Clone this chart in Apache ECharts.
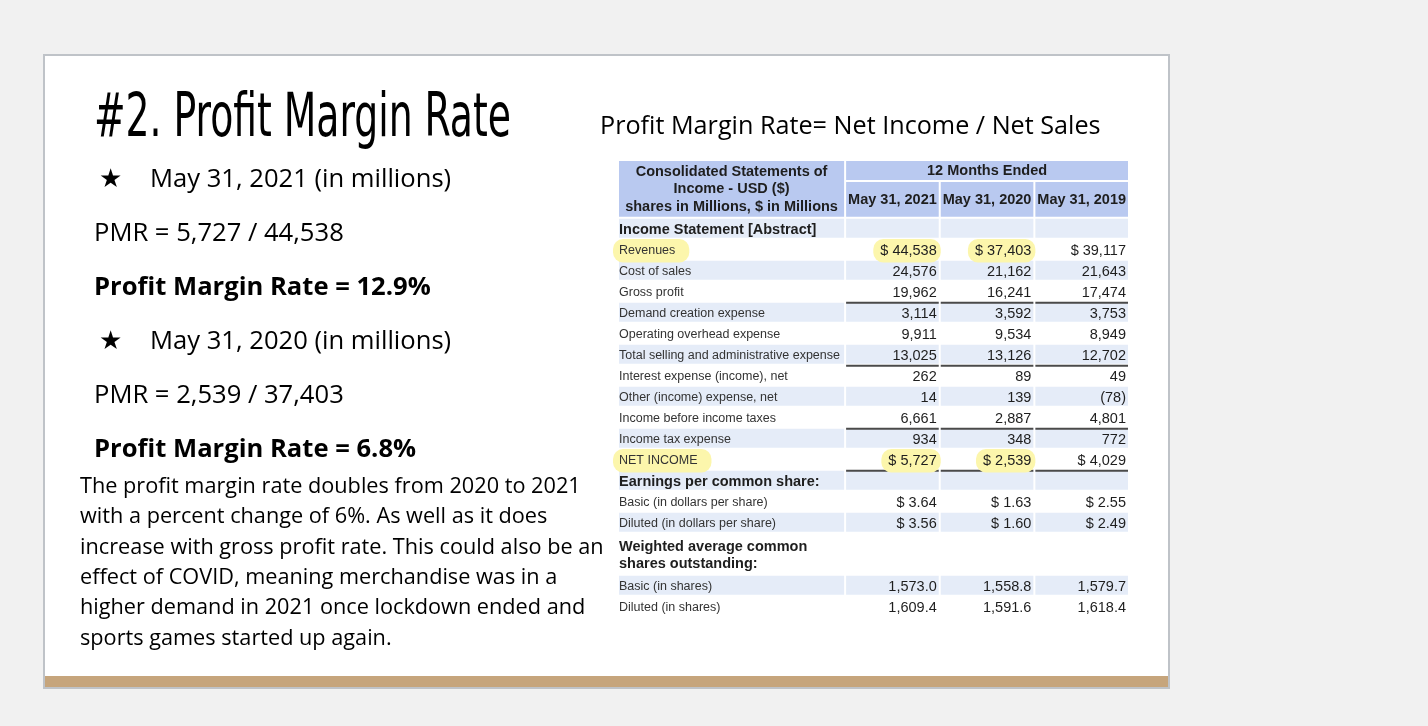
<!DOCTYPE html>
<html>
<head>
<meta charset="utf-8">
<title>#2. Profit Margin Rate</title>
<script src="https://cdn.jsdelivr.net/npm/echarts@6/dist/echarts.min.js"></script>
<style>
html, body { margin: 0; padding: 0; background: #f1f1f1; }
#main { width: 1428px; height: 726px; }
</style>
</head>
<body>
<div id="main"></div>
<script>
// ---- values ----
var title = '#2. Profit Margin Rate';
var formulaText = 'Profit Margin Rate= Net Income / Net Sales';
var notes2021 = ['May 31, 2021 (in millions)', 'PMR = 5,727 / 44,538', 'Profit Margin Rate = 12.9%'];
var notes2020 = ['May 31, 2020 (in millions)', 'PMR = 2,539 / 37,403', 'Profit Margin Rate = 6.8%'];
var paragraph = [
    'The profit margin rate doubles from 2020 to 2021',
    'with a percent change of 6%. As well as it does',
    'increase with gross profit rate. This could also be an',
    'effect of COVID, meaning merchandise was in a',
    'higher demand in 2021 once lockdown ended and',
    'sports games started up again.'
];

var tableHeader = 'Consolidated Statements of\nIncome - USD ($)\nshares in Millions, $ in Millions';
var periodHeader = '12 Months Ended';
var periods = ['May 31, 2021', 'May 31, 2020', 'May 31, 2019'];
var rowLabels = [
    'Income Statement [Abstract]',
    'Revenues',
    'Cost of sales',
    'Gross profit',
    'Demand creation expense',
    'Operating overhead expense',
    'Total selling and administrative expense',
    'Interest expense (income), net',
    'Other (income) expense, net',
    'Income before income taxes',
    'Income tax expense',
    'NET INCOME',
    'Earnings per common share:',
    'Basic (in dollars per share)',
    'Diluted (in dollars per share)',
    'Weighted average common\nshares outstanding:',
    'Basic (in shares)',
    'Diluted (in shares)'
];
var values2021 = [null, 44538, 24576, 19962, 3114, 9911, 13025, 262, 14, 6661, 934, 5727, null, 3.64, 3.56, null, 1573.0, 1609.4];
var values2020 = [null, 37403, 21162, 16241, 3592, 9534, 13126, 89, 139, 2887, 348, 2539, null, 1.63, 1.60, null, 1558.8, 1591.6];
var values2019 = [null, 39117, 21643, 17474, 3753, 8949, 12702, 49, -78, 4801, 772, 4029, null, 2.55, 2.49, null, 1579.7, 1618.4];

var sectionRows = ['Income Statement [Abstract]', 'Earnings per common share:', 'Weighted average common\nshares outstanding:'];
var dollarRows = ['Revenues', 'NET INCOME', 'Basic (in dollars per share)', 'Diluted (in dollars per share)'];
var perShareRows = ['Basic (in dollars per share)', 'Diluted (in dollars per share)'];
var shareRows = ['Basic (in shares)', 'Diluted (in shares)'];
var totalRows = ['Gross profit', 'Total selling and administrative expense', 'Income before income taxes', 'NET INCOME'];
var highlightRows = ['Revenues', 'NET INCOME'];
var highlightPeriods = ['May 31, 2021', 'May 31, 2020'];

// ---- styling ----
var HEAD_BG = '#b9c9f0';
var ROW_BG = '#e5ecf8';
var MARK = '#fcf6ac';
var TABLE_FONT = '"Liberation Sans", Arial, Helvetica, sans-serif';
var SLIDE_FONT = '"Open Sans", "Noto Sans", sans-serif';

// table layout, in column / row units of the hidden axes
var labelWidth = 2.4;
var head1 = 1, head2 = 1.75;
var colStart = [0, labelWidth, labelWidth + 1, labelWidth + 2];
var colEnd = [labelWidth, labelWidth + 1, labelWidth + 2, labelWidth + 3];
var bodyTop = head1 + head2;

var allValues = [values2021, values2020, values2019];

function fmt(label, v) {
    if (v == null) return '';
    var dec = perShareRows.indexOf(label) > -1 ? 2 : (shareRows.indexOf(label) > -1 ? 1 : 0);
    var s = Math.abs(v).toLocaleString('en-US', { minimumFractionDigits: dec, maximumFractionDigits: dec });
    if (v < 0) s = '(' + s + ')';
    if (dollarRows.indexOf(label) > -1) s = '$ ' + s;
    return s;
}

// background cells: [x0, x1, y0, y1, colour index]
var cellColors = [HEAD_BG, ROW_BG];
var cells = [];
var texts = [];      // {x, y, text, kind, align, mark}
var rules = [];      // [x0, x1, y]

cells.push([0, labelWidth, 0, bodyTop, 0]);
cells.push([labelWidth, colEnd[3], 0, head1, 0]);
texts.push({ x: labelWidth / 2, y: bodyTop / 2, text: tableHeader, kind: 'head', align: 'center' });
texts.push({ x: (labelWidth + colEnd[3]) / 2, y: head1 / 2, text: periodHeader, kind: 'head', align: 'center' });
periods.forEach(function(p, i) {
    cells.push([colStart[i + 1], colEnd[i + 1], head1, bodyTop, 0]);
    texts.push({ x: (colStart[i + 1] + colEnd[i + 1]) / 2, y: head1 + head2 / 2, text: p, kind: 'head', align: 'center' });
});

var slot = 0;
rowLabels.forEach(function(label, i) {
    var span = label.indexOf('\n') > -1 ? 2 : 1;
    var y0 = bodyTop + slot, y1 = y0 + span;
    if (i % 2 === 0) {
        for (var c = 0; c < 4; c++) cells.push([colStart[c], colEnd[c], y0, y1, 1]);
    }
    var isMark = highlightRows.indexOf(label) > -1;
    texts.push({
        x: 0, y: (y0 + y1) / 2, text: label, align: 'left',
        kind: sectionRows.indexOf(label) > -1 ? 'section' : 'label',
        mark: isMark
    });
    allValues.forEach(function(vals, p) {
        var s = fmt(label, vals[i]);
        if (s) {
            texts.push({
                x: colEnd[p + 1], y: (y0 + y1) / 2, text: s, align: 'right', kind: 'value',
                mark: isMark && highlightPeriods.indexOf(periods[p]) > -1
            });
        }
        if (totalRows.indexOf(label) > -1) rules.push([colStart[p + 1], colEnd[p + 1], y1]);
    });
    slot += span;
});

var fonts = {
    head: 'bold 14.5px ' + TABLE_FONT,
    section: 'bold 14.5px ' + TABLE_FONT,
    label: '12.5px ' + TABLE_FONT,
    value: '14.5px ' + TABLE_FONT
};

function renderCell(params, api) {
    var a = api.coord([api.value(0), api.value(2)]);
    var b = api.coord([api.value(1), api.value(3)]);
    return {
        type: 'rect',
        shape: { x: a[0] + 1, y: a[1] + 1, width: b[0] - a[0] - 2, height: b[1] - a[1] - 2 },
        style: { fill: cellColors[api.value(4)] }
    };
}

function renderRule(params, api) {
    var a = api.coord([api.value(0), api.value(2)]);
    var b = api.coord([api.value(1), api.value(2)]);
    return {
        type: 'line',
        shape: { x1: a[0] + 1, y1: a[1] + 1, x2: b[0] - 1, y2: b[1] + 1 },
        style: { stroke: '#4a4a4a', lineWidth: 2 }
    };
}

function renderText(params, api) {
    var t = texts[params.dataIndex];
    var p = api.coord([api.value(0), api.value(1)]);
    var x = p[0];
    var y = t.kind === 'head' ? p[1] + 0.5 : p[1] + 1.5;
    if (t.align === 'left') x += 1;
    if (t.align === 'right') x -= 3;
    var style = {
        text: t.text, x: x, y: y,
        font: fonts[t.kind],
        fill: t.kind === 'label' ? '#333' : '#1e1e1e',
        align: t.align, verticalAlign: 'middle',
        lineHeight: 17.5
    };
    if (t.mark) {
        var pad = t.align === 'left' ? [3, 14, 3, 6] : [3, 4, 3, 7];
        style.backgroundColor = MARK;
        style.borderRadius = 10;
        style.padding = pad;
        style.x = t.align === 'left' ? x - pad[3] : x + pad[1];
    }
    return { type: 'text', style: style };
}

// ---- slide text (graphic) ----
var measure = document.createElement('canvas').getContext('2d');
var titleFont = '60px "Liberation Sans Narrow", "DejaVu Sans Condensed", Roboto, sans-serif';
measure.font = titleFont;
var titleScale = 417 / measure.measureText(title).width;

var graphics = [
    { type: 'rect', z: -10, shape: { x: 44, y: 55, width: 1125, height: 633 },
      style: { fill: '#fff', stroke: '#bfc3c8', lineWidth: 2 } },
    { type: 'rect', z: -9, shape: { x: 45, y: 676, width: 1123, height: 11 },
      style: { fill: '#c6a57c' } },
    { type: 'text', x: 94, y: 120.5, scaleX: titleScale, originX: 0,
      style: { text: title, font: titleFont, fill: '#000', verticalAlign: 'middle' } },
    { type: 'text', x: 600, y: 127,
      style: { text: formulaText, font: '25.2px ' + SLIDE_FONT, fill: '#000', verticalAlign: 'middle' } }
];

function noteBlock(lines, top) {
    graphics.push({ type: 'text', x: 99, y: top,
        style: { text: '\u2605', font: '26px "DejaVu Sans", sans-serif', fill: '#000', verticalAlign: 'middle' } });
    graphics.push({ type: 'text', x: 150, y: top,
        style: { text: lines[0], font: '25.6px ' + SLIDE_FONT, fill: '#000', verticalAlign: 'middle' } });
    graphics.push({ type: 'text', x: 94, y: top + 54,
        style: { text: lines[1], font: '25.6px ' + SLIDE_FONT, fill: '#000', verticalAlign: 'middle' } });
    graphics.push({ type: 'text', x: 94, y: top + 108,
        style: { text: lines[2], font: 'bold 25.6px ' + SLIDE_FONT, fill: '#000', verticalAlign: 'middle' } });
}
noteBlock(notes2021, 180);
noteBlock(notes2020, 342);

paragraph.forEach(function(line, i) {
    graphics.push({ type: 'text', x: 80, y: 487 + i * 30.3,
        style: { text: line, font: '21.7px ' + SLIDE_FONT, fill: '#000', verticalAlign: 'middle' } });
});

var rowUnits = bodyTop + rowLabels.reduce(function(n, l) { return n + (l.indexOf('\n') > -1 ? 2 : 1); }, 0);

var myChart = echarts.init(document.getElementById('main'));

var option = {
    backgroundColor: '#f1f1f1',
    animation: false,
    graphic: graphics,
    grid: { left: 618, top: 160, width: 511, height: rowUnits * 21 },
    xAxis: { type: 'value', min: 0, max: colEnd[3], show: false },
    yAxis: { type: 'value', min: 0, max: rowUnits, inverse: true, show: false },
    series: [
        { type: 'custom', renderItem: renderCell, data: cells, silent: true, z: 1 },
        { type: 'custom', renderItem: renderRule,
          data: rules.map(function(r) { return [r[0], r[1], r[2]]; }), silent: true, z: 2 },
        { type: 'custom', renderItem: renderText,
          data: texts.map(function(t) { return [t.x, t.y]; }), silent: true, z: 3 }
    ]
};

myChart.setOption(option);
</script>
</body>
</html>
